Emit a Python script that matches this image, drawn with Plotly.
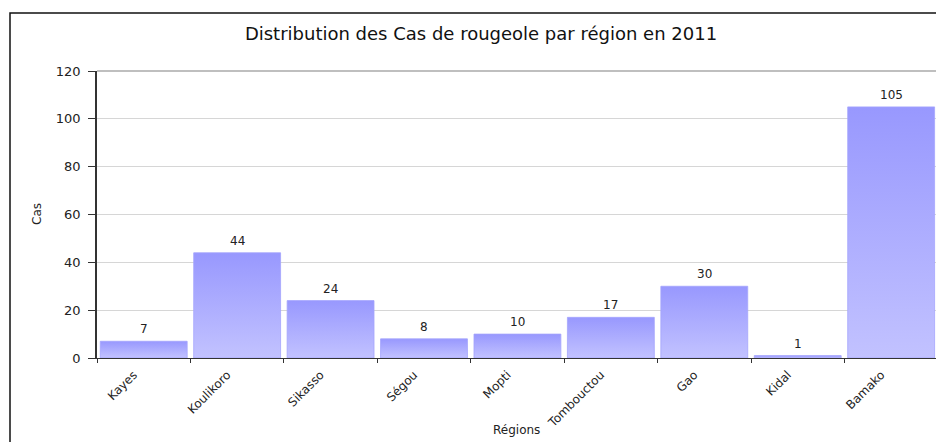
import plotly.graph_objects as go

# ── Data ───────────────────────────────────────────────────────────────────
REGIONS = ["Kayes", "Koulikoro", "Sikasso", "Ségou", "Mopti",
           "Tombouctou", "Gao", "Kidal", "Bamako"]
CASES = [7, 44, 24, 8, 10, 17, 30, 1, 105]
Y_TICKS = [0, 20, 40, 60, 80, 100, 120]

TITLE = "Distribution des Cas de rougeole par région en 2011"

# ── Style ──────────────────────────────────────────────────────────────────
FONT = "DejaVu Sans, Verdana, sans-serif"
TEXT = "#222222"
BAR_TOP = "#9898fe"
BAR_BOTTOM = "#c2c2ff"
GRID = "#d6d6d6"
AXIS = "#333333"
HALF_W = 0.465  # half bar width, in category units

W, H = 936, 442
M_L, M_R, M_T, M_B = 97, 0, 71, 84
plot_w = W - M_L - M_R
plot_h = H - M_T - M_B

fig = go.Figure()

# bars drawn as filled polygons so each one can carry a vertical gradient
for i, (name, v) in enumerate(zip(REGIONS, CASES)):
    fig.add_trace(go.Scatter(
        x=[i - HALF_W, i - HALF_W, i + HALF_W, i + HALF_W, i - HALF_W],
        y=[0, v, v, 0, 0],
        mode="lines",
        fill="toself",
        fillgradient=dict(type="vertical",
                          colorscale=[[0, BAR_BOTTOM], [1, BAR_TOP]]),
        line=dict(width=0.8, color="#a4a4fc"),
        hovertemplate=f"{name}: {v}<extra></extra>",
        showlegend=False,
    ))

fig.update_layout(
    width=W, height=H,
    margin=dict(l=M_L, r=M_R, t=M_T, b=M_B, autoexpand=False),
    paper_bgcolor="white",
    plot_bgcolor="white",
    font=dict(family=FONT, size=12, color=TEXT),
    title=dict(text=TITLE, x=481 / W, xref="container", xanchor="center",
               y=1 - 34 / H, yref="container", yanchor="middle",
               font=dict(family=FONT, size=18, color="#111111")),
    shapes=[
        # outer frame (runs off the right and bottom edges)
        dict(type="rect", xref="paper", yref="paper",
             x0=(10 - M_L) / plot_w, x1=1.2,
             y0=-0.5, y1=(M_T + plot_h - 13) / plot_h,
             line=dict(color="#111111", width=1.5), layer="below"),
        # top edge of plot area
        dict(type="line", xref="paper", yref="paper",
             x0=0, x1=1, y0=1, y1=1,
             line=dict(color="#aaaaaa", width=1.5)),
    ],
    annotations=[
        dict(text="Régions", xref="paper", yref="paper",
             x=0.5, y=-(430 - M_T - plot_h) / plot_h,
             xanchor="center", yanchor="middle", showarrow=False,
             font=dict(family=FONT, size=12, color=TEXT)),
        dict(text="Cas", xref="paper", yref="paper", textangle=-90,
             x=(37 - M_L) / plot_w, y=(M_T + plot_h - 214) / plot_h,
             xanchor="center", yanchor="middle", showarrow=False,
             font=dict(family=FONT, size=12, color=TEXT)),
    ],
)

# value labels above the bars
for i, v in enumerate(CASES):
    fig.add_annotation(x=i, y=v, text=str(v), showarrow=False,
                       xanchor="center", yanchor="bottom", yshift=3,
                       font=dict(family=FONT, size=12, color=TEXT))

fig.update_xaxes(
    range=[-0.5, len(REGIONS) - 0.52],
    tickvals=list(range(len(REGIONS))),
    ticktext=REGIONS,
    tickangle=-45,
    ticks="",
    ticklabelshift=-10,
    ticklabelstandoff=4,
    minor=dict(tick0=0.5, dtick=1, ticks="outside", ticklen=4,
               tickcolor=AXIS, showgrid=False),
    showgrid=False,
    zeroline=False,
    showline=True, linecolor=AXIS, linewidth=1.2,
    tickfont=dict(family=FONT, size=12, color=TEXT),
    automargin=False,
    fixedrange=True,
)

fig.update_yaxes(
    range=[0, 120],
    tickvals=Y_TICKS,
    ticks="outside", ticklen=7, tickcolor=AXIS,
    ticklabelstandoff=5,
    showgrid=True, gridcolor=GRID, gridwidth=1,
    zeroline=False,
    showline=True, linecolor=AXIS, linewidth=1.5,
    tickfont=dict(family=FONT, size=13, color=TEXT),
    automargin=False,
    fixedrange=True,
)

# the page's default body margin would shift the fixed-size figure
fig.write_html("out.html", config={"displayModeBar": False},
               post_script="document.body.style.margin = '0';")
